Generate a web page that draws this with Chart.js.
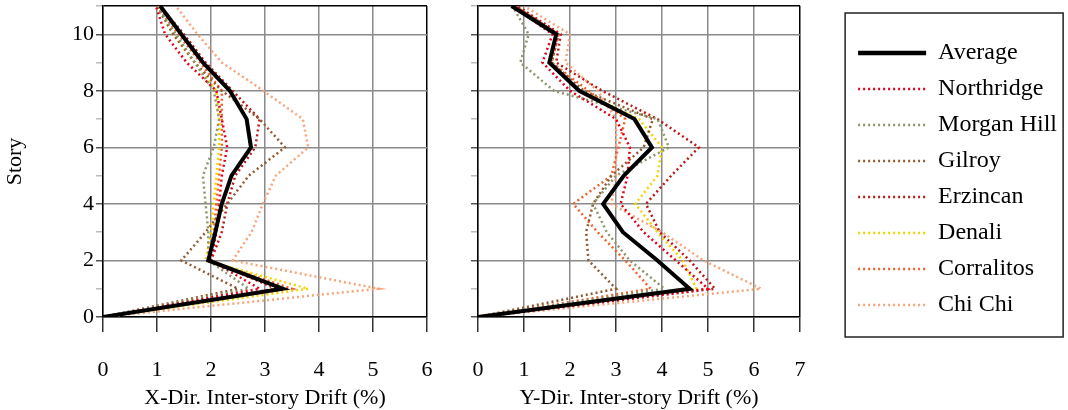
<!DOCTYPE html>
<html lang="en">
<head>
<meta charset="UTF-8">
<title>Inter-story Drift</title>
<script src="https://cdn.jsdelivr.net/npm/chart.js"></script>
<style>
  body { margin: 0; background: #fff; }
  #wrap { position: relative; width: 1068px; height: 410px; }
  canvas { position: absolute; top: 0; }
  #driftX { left: 0; }
  #driftY { left: 440px; }
</style>
</head>
<body>
<div id="wrap">
  <canvas id="driftX" width="440" height="410"></canvas>
  <canvas id="driftY" width="628" height="410"></canvas>
</div>
<script>
const stories = [0, 1, 2, 3, 4, 5, 6, 7, 8, 9, 10, 11];
const records = ['Average', 'Northridge', 'Morgan Hill', 'Gilroy', 'Erzincan', 'Denali', 'Corralitos', 'Chi Chi'];
const yTicks = [0, 2, 4, 6, 8, 10];

// X-direction inter-story drift (%), story 0..11
const avgX        = [0, 3.33, 1.95, 2.08, 2.20, 2.38, 2.74, 2.66, 2.35, 1.85, 1.45, 1.06];
const northridgeX = [0, 2.90, 2.00, 2.10, 2.15, 2.20, 2.30, 2.20, 2.10, 1.55, 1.15, 0.98];
const morganHillX = [0, 2.70, 1.95, 1.95, 1.90, 1.85, 2.05, 2.15, 2.05, 1.70, 1.35, 1.00];
const gilroyX     = [0, 2.50, 1.45, 1.90, 2.30, 2.70, 3.37, 2.90, 2.20, 1.70, 1.30, 1.00];
const erzincanX   = [0, 3.20, 2.00, 2.20, 2.30, 2.45, 2.82, 2.90, 2.40, 1.90, 1.50, 1.05];
const denaliX     = [0, 3.80, 1.90, 2.00, 2.05, 2.10, 2.15, 2.15, 2.10, 1.70, 1.30, 1.00];
const corralitosX = [0, 3.50, 1.95, 2.05, 2.10, 2.15, 2.20, 2.20, 2.20, 1.80, 1.40, 1.00];
const chiChiX     = [0, 5.10, 2.40, 2.75, 2.96, 3.20, 3.80, 3.70, 2.97, 2.20, 1.75, 1.35];

// Y-direction inter-story drift (%), story 0..11
const avgY        = [0, 4.60, 3.90, 3.15, 2.72, 3.17, 3.78, 3.40, 2.20, 1.55, 1.70, 0.73];
const northridgeY = [0, 5.00, 4.30, 3.60, 3.10, 3.25, 3.30, 3.00, 2.00, 1.40, 1.62, 0.75];
const morganHillY = [0, 4.05, 3.30, 2.80, 2.50, 3.00, 4.15, 3.90, 1.65, 0.92, 1.10, 0.75];
const gilroyY     = [0, 3.00, 2.40, 2.35, 2.50, 2.90, 3.60, 3.80, 2.30, 1.60, 1.75, 0.80];
const erzincanY   = [0, 5.15, 4.60, 3.95, 3.65, 4.20, 4.80, 3.90, 2.70, 1.70, 1.80, 0.85];
const denaliY     = [0, 4.75, 4.45, 3.90, 3.42, 3.90, 4.00, 3.50, 2.20, 1.60, 1.70, 0.80];
const corralitosY = [0, 3.75, 3.20, 2.60, 2.07, 2.90, 3.05, 3.20, 2.40, 1.60, 1.75, 0.80];
const chiChiY     = [0, 6.15, 4.90, 4.00, 2.90, 3.00, 3.00, 3.00, 2.60, 1.90, 2.00, 1.00];

const xSeries = [avgX, northridgeX, morganHillX, gilroyX, erzincanX, denaliX, corralitosX, chiChiX];
const ySeries = [avgY, northridgeY, morganHillY, gilroyY, erzincanY, denaliY, corralitosY, chiChiY];

const lineColors = ['#000000', '#e3001b', '#8e9468', '#8f5a30', '#b81a1a', '#f2d400', '#f0602c', '#f7a47a'];

Chart.defaults.font.family = '"Liberation Serif", "Times New Roman", serif';
Chart.defaults.color = '#000';

function datasets(series) {
  return series.map((xs, i) => ({
    label: records[i],
    data: xs.map((v, k) => ({ x: v, y: stories[k] })),
    borderColor: lineColors[i],
    backgroundColor: lineColors[i],
    borderWidth: i === 0 ? 4 : 2.5,
    borderDash: i === 0 ? [] : [2, 3],
    pointRadius: 0,
    tension: 0
  }));
}

function axes(xMax, title, showStory, yWidth) {
  return {
    x: {
      type: 'linear', min: 0, max: xMax,
      ticks: { stepSize: 1, autoSkip: false, padding: 25, font: { size: 22 } },
      grid: {
        color: c => c.tick.value === xMax ? '#000' : '#8a8a8a',
        lineWidth: 1.5, tickLength: 15, tickColor: '#333'
      },
      border: { color: '#000', width: 1.5 },
      title: { display: true, text: title, font: { size: 22 }, padding: { top: 0, bottom: -1 } },
      afterFit: s => { s.height = 93; s.paddingLeft = 0; s.paddingRight = 0; }
    },
    y: {
      type: 'linear', min: 0, max: 11,
      ticks: {
        stepSize: 1, autoSkip: false, padding: 2, display: showStory,
        font: { size: 22 },
        callback: v => yTicks.includes(v) ? v : ''
      },
      grid: {
        color: c => c.tick.value === 11 ? '#000' : (c.tick.value % 2 === 0 ? '#8a8a8a' : 'rgba(0,0,0,0)'),
        lineWidth: 1.5, tickLength: 7,
        tickColor: c => c.tick.value % 2 === 0 ? '#555' : '#bbb'
      },
      border: { color: '#000', width: 1.5 },
      title: { display: showStory, text: 'Story', font: { size: 22 }, padding: { top: 2, bottom: 0 } },
      afterFit: s => { s.width = yWidth; s.paddingTop = 0; s.paddingBottom = 0; }
    }
  };
}

new Chart(document.getElementById('driftX'), {
  type: 'line',
  data: { datasets: datasets(xSeries) },
  options: {
    responsive: false, animation: false,
    layout: { padding: { top: 6, right: 13, bottom: 0, left: 0 } },
    plugins: { legend: { display: false }, tooltip: { enabled: false } },
    scales: axes(6, 'X-Dir. Inter-story Drift (%)', true, 103)
  }
});

// frame round the legend, as in the original figure
const legendFrame = {
  id: 'legendFrame',
  afterDraw(chart) {
    const lg = chart.legend;
    const ctx = chart.ctx;
    ctx.save();
    ctx.strokeStyle = '#222';
    ctx.lineWidth = 1.5;
    ctx.strokeRect(lg.left - 1, lg.top + 7, 218, 324);
    ctx.restore();
  }
};

const scalesY = axes(7, 'Y-Dir. Inter-story Drift (%)', false, 38);
scalesY.gap = {
  type: 'linear', position: 'right', display: true,
  grid: { display: false }, border: { display: false }, ticks: { display: false },
  afterFit: s => { s.width = 46; }
};

new Chart(document.getElementById('driftY'), {
  type: 'line',
  data: { datasets: datasets(ySeries) },
  options: {
    responsive: false, animation: false,
    layout: { padding: { top: 6, right: 1, bottom: 0, left: 0 } },
    plugins: {
      tooltip: { enabled: false },
      legend: {
        position: 'right', align: 'start', maxWidth: 221,
        title: { display: true, text: '', font: { size: 10 }, padding: { top: 5.5, bottom: 5.5 } },
        labels: {
          usePointStyle: true, pointStyle: 'line', pointStyleWidth: 68,
          padding: 12, color: '#000', font: { size: 24 },
          generateLabels: chart =>
            Chart.defaults.plugins.legend.labels.generateLabels(chart).map(item => {
              const ds = chart.data.datasets[item.datasetIndex];
              item.strokeStyle = ds.borderColor;
              item.lineWidth = ds.borderWidth === 4 ? 4.5 : 2.5;
              item.lineDash = ds.borderDash;
              return item;
            })
        }
      }
    },
    scales: scalesY
  },
  plugins: [legendFrame]
});
</script>
</body>
</html>
